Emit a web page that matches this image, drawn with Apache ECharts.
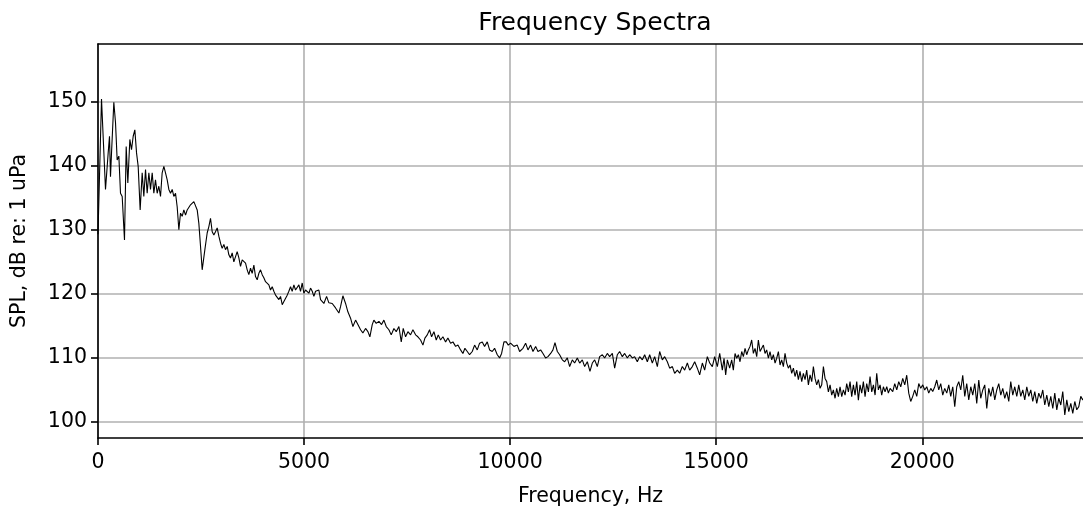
<!DOCTYPE html>
<html><head><meta charset="utf-8">
<script src="https://cdn.jsdelivr.net/npm/echarts@6/dist/echarts.min.js"></script>
<style>html,body{margin:0;padding:0;background:#fff;}#c{width:1083px;height:510px;}</style>
</head><body><div id="c"></div>
<script>
const chartTitle = 'Frequency Spectra';
const xName = 'Frequency, Hz';
const yName = 'SPL, dB re: 1 uPa';
const xTicks = [0, 5000, 10000, 15000, 20000];
const yTicks = [100, 110, 120, 130, 140, 150];

const segAHz = [0,85,182,247,279,303,328,384,425,465,506,546,587,643,684,724,773,813,854,894,935,975,1023,1072,1112,1153,1193,1234,1274,1315,1355,1395,1436,1476,1517,1557,1598,1638,1679,1719,1760,1800,1840,1881,1921,1962,2002,2043,2083,2124,2164,2205,2245,2285,2326,2366,2407,2447,2488,2528];
const segADb = [129.3,150.4,136.3,142.0,144.6,138.3,142.0,149.9,146.7,140.9,141.5,135.7,135.2,128.4,143.0,137.3,144.1,142.5,144.6,145.6,142.0,139.9,133.1,138.9,135.2,139.4,135.7,138.9,136.3,138.9,135.7,137.8,135.7,136.8,135.2,138.9,139.9,138.9,137.8,136.3,135.7,136.3,135.2,135.7,133.6,130.0,132.6,132.1,133.1,132.3,133.1,133.4,133.9,134.2,134.4,134.7,133.1,131.0,127.4,123.75];

const segBHz = [2593,2649,2690,2730,2771,2811,2851,2892,2932,2973,3013,3054,3094,3135,3175,3215,3256,3296,3337,3377,3418,3458,3499,3539,3580,3620,3660,3701,3741,3782,3822,3863,3903,3944,3984,4024,4065,4105,4146,4186,4227,4267,4308,4348,4389,4429,4470,4510,4550,4591,4631,4672,4712,4753,4793,4834,4874,4914,4955,4995,5036,5076,5117,5157,5198,5238,5279,5319,5359,5400,5440];
const segBDb = [126.9,129.5,130.5,131.8,129.7,129.2,129.7,130.3,129.0,127.9,127.1,127.7,126.9,127.4,126.1,125.6,126.4,125.0,124.8,126.6,125.6,124.3,125.3,125.6,124.8,123.75,123.0,124.0,123.2,124.5,122.7,122.2,123.2,123.75,123.0,122.5,121.9,121.7,121.4,120.6,121.1,120.4,119.8,120.1,119.1,119.6,118.3,118.8,118.5,119.8,120.4,121.1,120.4,121.4,120.6,120.9,121.4,120.4,121.7,120.1,120.6,120.9,120.1,120.9,120.4,119.6,120.4,120.1,120.6,119.1,118.9];

const segCHz = [5481,5546,5602,5683,5764,5845,5885,5942,6007,6063,6128,6185,6250,6306,6371,6427,6492,6549,6597,6654,6694,6751,6816,6880,6937,6994,7058,7115,7180,7236,7301,7358,7406,7463,7520,7584,7641,7706,7762,7827,7884,7932,7989,8045,8094,8151,8207,8256,8312,8369,8434,8490,8555,8612,8677,8733,8798,8854,8903,8960,9016,9081,9138,9202,9259,9324,9380,9445,9502,9566,9623,9688,9744,9793,9850,9906,9955,10011,10092,10173,10230];
const segCDb = [118.5,119.6,118.6,118.5,117.8,117.0,118.0,119.7,118.5,117.2,116.2,114.9,115.9,115.2,114.4,113.9,114.6,114.1,113.3,115.2,115.9,115.4,115.7,115.2,115.9,114.9,114.4,113.6,114.6,114.1,114.9,112.5,114.6,113.3,114.1,113.6,114.4,113.6,113.3,112.8,112.0,113.1,113.6,114.4,113.3,114.1,112.8,113.6,112.8,113.3,112.5,113.1,112.3,112.5,111.8,112.0,111.25,110.7,111.5,111.0,110.5,111.0,112.0,111.25,112.3,112.5,111.8,112.5,111.25,111.0,111.5,110.5,110.0,110.7,112.5,112.5,112.0,112.3,111.8,112.0,111.0];

const segDHz = [10311,10376,10433,10497,10554,10619,10675,10740,10797,10861,10918,10983,11039,11088,11145,11201,11266,11323,11387,11444,11509,11565,11630,11687,11751,11808,11873,11937,11994,12051,12115,12172,12237,12293,12358,12415,12480,12536,12601,12657,12722,12779,12844,12900,12965,13021,13086,13143,13208,13264,13329,13386,13450,13507,13572,13628,13693,13750,13814,13871,13936,13992,14057,14114,14178,14235,14300,14356,14421,14478,14542,14599,14664,14720,14785,14842,14906,14963,15028,15085];
const segDDb = [111.5,112.3,111.25,112.0,111.0,111.8,111.0,111.25,110.7,110.0,110.2,110.7,111.25,112.4,111.0,110.5,109.7,109.4,110.0,108.65,109.7,109.2,110.0,109.2,109.7,108.65,109.4,107.9,109.2,109.7,108.65,110.2,110.5,110.0,110.7,110.2,110.7,108.4,110.5,111.0,110.2,110.7,110.0,110.5,110.0,110.2,109.4,110.2,109.7,110.5,109.4,110.5,109.2,110.2,108.65,111.0,109.7,110.2,109.4,108.4,108.65,107.6,108.1,107.6,108.65,108.1,109.2,108.1,108.65,109.4,108.4,107.35,109.2,108.1,110.2,109.2,108.65,110.2,108.65,110.7];

const segEHz = [15149,15190,15230,15271,15327,15376,15416,15457,15497,15538,15578,15619,15659,15700,15740,15780,15821,15861,15902,15942,15983,16023,16064,16104,16145,16185,16225,16266,16306,16347,16387,16428,16468,16509,16549,16589,16630,16670,16711,16751,16792,16832,16873,16913,16954,16994,17034,17075,17115,17156,17196,17237,17277,17318,17358,17398,17439,17479,17520,17560,17601,17641,17682,17722,17763,17803,17843,17884,17924,17965,18005,18046,18086,18127,18167,18207,18248,18288,18329,18369,18410,18450,18490,18531,18571,18612,18652,18693,18733,18774,18814,18855,18895,18935,18976,19016,19057,19097,19138,19178,19219];
const segEDb = [108.1,109.95,107.35,109.7,108.4,109.7,108.1,110.7,109.95,110.5,109.4,111.0,110.2,111.5,110.5,111.25,111.8,112.8,110.7,111.5,110.2,112.8,111.0,111.5,112.0,110.7,111.25,109.95,111.0,109.7,110.5,109.2,109.95,111.0,108.9,109.7,108.65,110.7,109.2,108.4,108.9,107.6,108.4,107.1,108.1,106.6,107.9,106.3,107.6,106.6,108.1,105.8,107.35,106.3,108.65,106.8,105.8,106.6,105.25,105.8,108.65,106.8,106.3,104.7,105.8,104.2,105.0,103.7,105.25,103.95,105.5,103.95,105.0,104.2,106.0,104.7,106.3,103.95,105.8,104.2,106.3,103.4,105.8,104.5,106.3,103.95,106.0,104.7,107.1,104.7,105.8,104.2,107.6,105.0,105.8,104.2,105.5,104.7,105.5,104.5,105.25];

const segFHz = [19284,19332,19381,19429,19478,19526,19575,19623,19672,19720,19769,19817,19866,19915,19963,20012,20060,20109,20157,20206,20254,20303,20351,20400,20448,20497,20545,20594,20643,20691,20740,20788,20837,20885,20934,20982,21031,21079,21128,21177,21225,21274,21322,21371,21419,21468,21516,21565,21613,21662,21711,21759,21808,21856,21905,21953,22002,22050,22099,22147,22196,22244,22293,22341,22390,22439,22487,22536,22584,22633,22681,22730,22778,22827,22875,22924,22972,23021,23070,23118,23167,23215,23264,23312,23361,23409,23458,23507,23555,23604,23652,23701,23749,23798,23846,23895,23950,24000];
const segFDb = [104.75,106.0,105.0,106.3,105.5,106.8,105.8,107.3,104.5,103.2,104.0,105.0,104.0,106.0,105.25,105.8,105.0,105.5,104.5,105.25,104.75,105.5,106.55,105.0,106.0,104.2,105.25,104.5,105.8,104.0,105.5,102.4,105.5,106.3,105.0,107.3,104.0,106.0,103.45,105.5,104.2,106.0,102.9,106.55,103.7,105.0,105.8,102.1,105.25,104.0,105.5,103.45,105.0,106.0,104.2,105.25,103.7,104.75,103.2,106.3,104.2,105.5,104.0,105.8,104.0,105.0,103.45,105.5,104.0,105.0,103.2,104.75,102.9,104.5,103.7,105.0,102.65,104.2,102.4,104.0,102.1,104.5,101.9,103.7,102.65,104.75,101.1,103.45,101.6,102.9,101.35,103.2,101.9,102.4,104.0,103.45,104.2,103.6];

const segments = [[segAHz, segADb], [segBHz, segBDb], [segCHz, segCDb], [segDHz, segDDb], [segEHz, segEDb], [segFHz, segFDb]];
const spectrum = [];
segments.forEach(([hz, db]) => {
  const n = Math.min(hz.length, db.length);
  for (let i = 0; i < n; i++) spectrum.push([hz[i], db[i]]);
});

const FONT = 'DejaVu Sans';
const labelStyle = {fontFamily: FONT, fontSize: 20.5, color: '#000'};
const chart = echarts.init(document.getElementById('c'), null, {renderer: 'canvas'});
chart.setOption({
  animation: false,
  backgroundColor: '#fff',
  title: {
    text: chartTitle, left: 590, top: 6, textAlign: 'center',
    textStyle: {fontFamily: FONT, fontSize: 25, fontWeight: 'normal', color: '#000'}
  },
  grid: {left: 98, right: 0, top: 44, bottom: 72, show: false, containLabel: false, outerBoundsMode: 'none'},
  xAxis: [{
    type: 'value', min: 0, max: 23900, interval: 5000, position: 'bottom',
    name: xName, nameLocation: 'middle', nameGap: 48,
    nameTextStyle: labelStyle,
    axisLine: {show: true, onZero: false, lineStyle: {color: '#000', width: 1.6}},
    axisTick: {show: true, length: 7, customValues: xTicks, lineStyle: {color: '#000', width: 1.6}},
    axisLabel: Object.assign({customValues: xTicks, margin: 14, formatter: v => String(v)}, labelStyle),
    splitLine: {show: true, lineStyle: {color: '#b0b0b0', width: 1.6}}
  }, {
    type: 'value', min: 0, max: 23900, position: 'top',
    axisLine: {show: true, onZero: false, lineStyle: {color: '#000', width: 1.6}},
    axisTick: {show: false}, axisLabel: {show: false}, splitLine: {show: false}
  }],
  yAxis: {
    type: 'value', min: 97.5, max: 159, splitNumber: 6,
    name: yName, nameLocation: 'middle', nameGap: 68,
    nameTextStyle: labelStyle,
    axisLine: {show: true, onZero: false, lineStyle: {color: '#000', width: 1.6}},
    axisTick: {show: true, length: 7, customValues: yTicks, lineStyle: {color: '#000', width: 1.6}},
    axisLabel: Object.assign({customValues: yTicks, margin: 11, formatter: v => String(v)}, labelStyle),
    splitLine: {show: true, lineStyle: {color: '#b0b0b0', width: 1.6}}
  },
  series: [{
    type: 'line', data: spectrum, showSymbol: false, symbol: 'none', sampling: null,
    xAxisIndex: 0, lineStyle: {color: '#000', width: 1.1}, z: 5, clip: true
  }]
});
</script></body></html>
